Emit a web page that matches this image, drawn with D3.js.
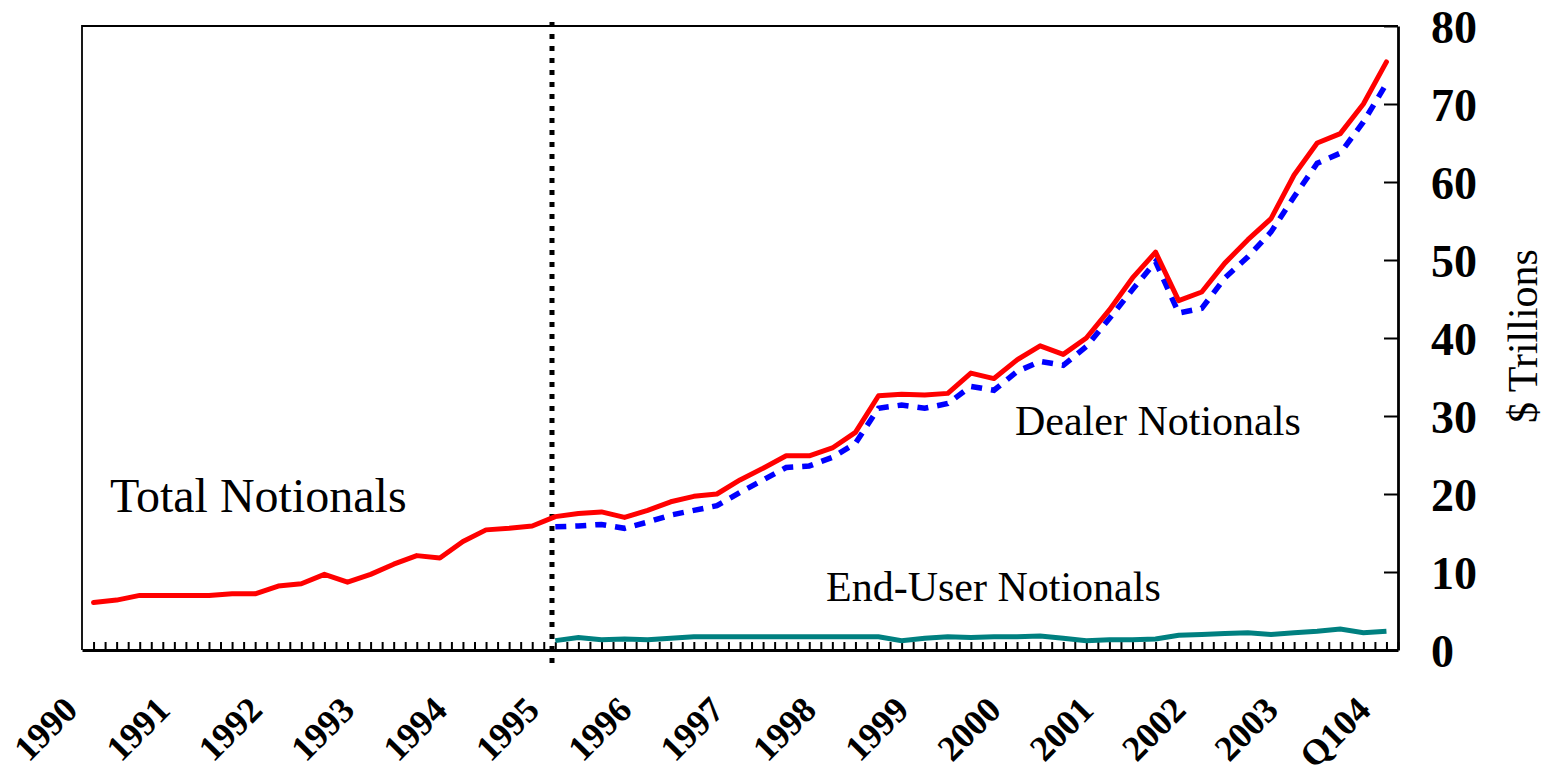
<!DOCTYPE html>
<html>
<head>
<meta charset="utf-8">
<script src="https://cdn.jsdelivr.net/npm/d3@7"></script>
<style>
  body { margin: 0; background: #fff; }
  text { font-family: 'Liberation Serif', 'Times New Roman', serif; }
</style>
</head>
<body>
<div id="content"></div>
<script>
// Quarterly data, 1990 Q1 .. 2004 Q1 ($ trillions)
let years = ['1990', '1991', '1992', '1993', '1994', '1995', '1996',
             '1997', '1998', '1999', '2000', '2001', '2002', '2003', '2004'];
let quarterNames = ['Q1', 'Q2', 'Q3', 'Q4'];

let totalNotionals = [
  6.1, 6.4, 7.0, 7.0, 7.0, 7.0, 7.2, 7.2, 8.2, 8.5,
  9.7, 8.7, 9.7, 11.0, 12.1, 11.8, 13.9, 15.4, 15.6, 15.9,
  17.1, 17.5, 17.7, 17.0, 17.9, 19.0, 19.7, 20.0, 21.8, 23.3,
  24.9, 24.9, 25.9, 27.9, 32.6, 32.8, 32.7, 32.9, 35.5, 34.8,
  37.2, 39.0, 37.9, 40.0, 43.6, 47.7, 51.0, 44.8, 45.9, 49.6,
  52.6, 55.3, 60.9, 65.0, 66.2, 70.0, 75.4
];

// Dealer / end-user split only starts in 1995 Q1
let splitStart = '1995Q1';
let dealerNotionals = [
  15.8, 15.9, 16.1, 15.6, 16.4, 17.3, 17.9, 18.5, 20.2, 21.8,
  23.4, 23.6, 24.7, 26.5, 31.0, 31.4, 31.0, 31.6, 33.8, 33.3,
  35.7, 37.0, 36.5, 38.9, 42.5, 46.2, 49.8, 43.2, 43.8, 47.7,
  50.4, 53.6, 58.1, 62.4, 63.7, 67.7, 72.6
];
let endUserNotionals = [
  1.2, 1.6, 1.3, 1.4, 1.3, 1.5, 1.7, 1.7, 1.7, 1.7,
  1.7, 1.7, 1.7, 1.7, 1.7, 1.2, 1.5, 1.7, 1.6, 1.7,
  1.7, 1.8, 1.5, 1.2, 1.3, 1.3, 1.4, 1.9, 2.0, 2.1,
  2.2, 2.0, 2.2, 2.4, 2.7, 2.2, 2.4
];

let tickLabels = ['1990', '1991', '1992', '1993', '1994', '1995', '1996',
                  '1997', '1998', '1999', '2000', '2001', '2002', '2003', 'Q104'];
let tickQuarters = ['1990Q1', '1991Q1', '1992Q1', '1993Q1', '1994Q1', '1995Q1', '1996Q1',
                    '1997Q1', '1998Q1', '1999Q1', '2000Q1', '2001Q1', '2002Q1', '2003Q1', '2004Q1'];
let yTicks = [0, 10, 20, 30, 40, 50, 60, 70, 80];

// Build the quarter list from the years
let quarters = [];
years.forEach(yr => quarterNames.forEach(q => quarters.push(yr + q)));
quarters = quarters.slice(0, totalNotionals.length);
let startIdx = quarters.indexOf(splitStart);

let totalData = totalNotionals.map((v, i) => ({i: i, value: v}));
let dealerData = dealerNotionals.map((v, i) => ({i: i + startIdx, value: v}));
let endUserData = endUserNotionals.map((v, i) => ({i: i + startIdx, value: v}));

// Height and width
let width = 1552, height = 776;
let plot = {left: 82, right: 1398, top: 26, bottom: 650};

let svg = d3.select('#content')
            .append('svg')
            .attr('width', width)
            .attr('height', height);

// Scales
let x = d3.scaleLinear()
          .domain([-0.5, quarters.length - 0.5])
          .range([plot.left, plot.right]);

let y = d3.scaleLinear()
          .domain([0, 80])
          .range([plot.bottom, plot.top]);

// Frame (left and top)
svg.append('path')
   .attr('d', 'M' + plot.left + ',' + plot.bottom + 'V' + plot.top + 'H' + plot.right)
   .attr('fill', 'none')
   .attr('stroke', '#000')
   .attr('stroke-width', 1.8);

// Bottom axis, ticks every half quarter pointing up
let halfSteps = d3.range(0, quarters.length - 0.5 + 0.01, 0.5);
let xAxis = svg.append('g')
   .attr('transform', 'translate(0,' + plot.bottom + ')')
   .call(d3.axisBottom(x).tickValues(halfSteps).tickSizeInner(-8).tickSizeOuter(0).tickFormat(''));
xAxis.select('.domain').attr('stroke-width', 3.2);
xAxis.selectAll('.tick line').attr('stroke-width', 2);

// Year labels
svg.append('g')
   .selectAll('text')
   .data(tickLabels)
   .enter()
   .append('text')
   .attr('transform', (d, k) => 'translate(' + (x(quarters.indexOf(tickQuarters[k])) - 14) + ',712) rotate(-45)')
   .attr('text-anchor', 'end')
   .attr('font-size', 36)
   .attr('font-weight', 'bold')
   .text(d => d);

// Right axis
let yAxis = svg.append('g')
   .attr('transform', 'translate(' + plot.right + ',0)')
   .call(d3.axisRight(y).tickValues(yTicks).tickSizeInner(-14).tickSizeOuter(0).tickPadding(33));
yAxis.select('.domain').attr('stroke-width', 2.8);
yAxis.selectAll('.tick line').attr('stroke-width', 2);
yAxis.selectAll('.tick text')
     .attr('font-family', "'Liberation Serif', 'Times New Roman', serif")
     .attr('font-size', 46)
     .attr('font-weight', 'bold')
     .attr('fill', '#000')
     .attr('dy', '0.35em');

svg.append('text')
   .attr('transform', 'translate(1537,336) rotate(-90)')
   .attr('text-anchor', 'middle')
   .attr('font-size', 42)
   .text('$ Trillions');

// Break line where the dealer/end-user split begins
let breakX = Math.round(x(startIdx - 0.13));
svg.append('line')
   .attr('x1', breakX).attr('x2', breakX)
   .attr('y1', 22).attr('y2', 666)
   .attr('stroke', '#000')
   .attr('stroke-width', 5)
   .attr('stroke-dasharray', '5,7');

// Lines
let line = d3.line()
             .x(d => x(d.i))
             .y(d => y(d.value));

svg.append('path')
   .datum(endUserData)
   .attr('d', line)
   .attr('fill', 'none')
   .attr('stroke', '#008080')
   .attr('stroke-width', 5);

svg.append('path')
   .datum(dealerData)
   .attr('d', line)
   .attr('fill', 'none')
   .attr('stroke', '#0000ff')
   .attr('stroke-width', 5.5)
   .attr('stroke-dasharray', '11,9');

svg.append('path')
   .datum(totalData)
   .attr('d', line)
   .attr('fill', 'none')
   .attr('stroke', '#ff0000')
   .attr('stroke-width', 5)
   .attr('stroke-linejoin', 'round')
   .attr('stroke-linecap', 'round');

// Annotations
let notes = [
  {text: 'Total Notionals', x: 110, y: 512, size: 48},
  {text: 'Dealer Notionals', x: 1015, y: 435, size: 42},
  {text: 'End-User Notionals', x: 826, y: 601, size: 42}
];
svg.selectAll('.note')
   .data(notes)
   .enter()
   .append('text')
   .attr('class', 'note')
   .attr('x', d => d.x)
   .attr('y', d => d.y)
   .attr('font-size', d => d.size)
   .text(d => d.text);
</script>
</body>
</html>
